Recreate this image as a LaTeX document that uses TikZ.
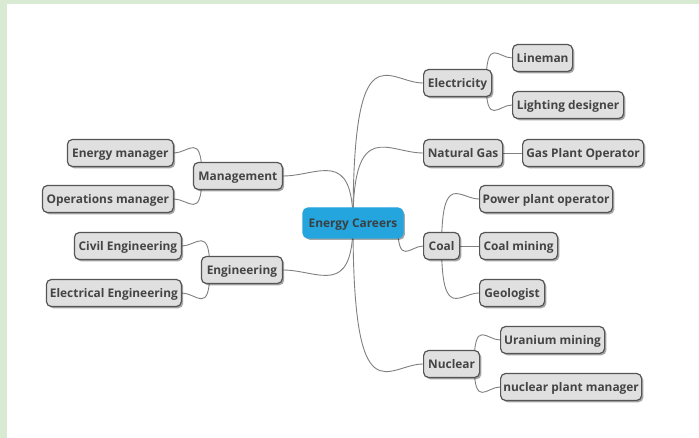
\documentclass[tikz,border=0pt]{standalone}
\usepackage{fontspec}
\setmainfont{Open Sans}
\usetikzlibrary{shadows,calc}
\definecolor{bggreen}{HTML}{D9EAD3}
\definecolor{boxfill}{HTML}{E0E0E0}
\definecolor{boxline}{HTML}{555555}
\definecolor{txt}{HTML}{444444}
\definecolor{rootfill}{HTML}{25A5DD}
\definecolor{roottxt}{HTML}{3A3F44}
\definecolor{edgecol}{HTML}{808080}
\pgfdeclarelayer{bg}
\pgfsetlayers{bg,main}
\begin{document}
\begin{tikzpicture}[x=1pt,y=-1pt,
  box/.style={draw=boxline, fill=boxfill, rounded corners=5pt, line width=1.2pt,
    minimum height=27pt, inner sep=0pt, text=txt, text height=8.5pt, text depth=0pt,
    font=\bfseries\fontsize{11.9}{13}\selectfont,
    drop shadow={shadow xshift=1.8pt, shadow yshift=-1.8pt, opacity=0.35, fill=black}},
  rootbox/.style={box, fill=rootfill, draw=rootfill, text=roottxt, minimum height=30pt},
  edge/.style={draw=edgecol, line width=0.9pt}]
\begin{pgfonlayer}{bg}
  \fill[white] (0,0) rectangle (699,438);
  \fill[bggreen] (0,0) rectangle (699,4);
  \fill[bggreen] (0,0) rectangle (7,438);
\end{pgfonlayer}
\useasboundingbox (0,0) rectangle (699,438);

% root
\node[rootbox, minimum width=100pt] (root) at (353,223) {Energy Careers};

% right side
\node[box, anchor=west, minimum width=68pt] (elec) at (423,83) {Electricity};
\node[box, anchor=west, minimum width=60pt] (lineman) at (512,58) {Lineman};
\node[box, anchor=west, minimum width=111pt] (lighting) at (512,105) {Lighting designer};
\node[box, anchor=west, minimum width=79pt] (natgas) at (423,153) {Natural Gas};
\node[box, anchor=west, minimum width=121pt] (gpo) at (522,153) {Gas Plant Operator};
\node[box, anchor=west, minimum width=36pt] (coal) at (423,246) {Coal};
\node[box, anchor=west, minimum width=133pt] (ppo) at (479,199) {Power plant operator};
\node[box, anchor=west, minimum width=78pt] (coalmining) at (479,246) {Coal mining};
\node[box, anchor=west, minimum width=65pt] (geologist) at (479,293) {Geologist};
\node[box, anchor=west, minimum width=56pt] (nuclear) at (423,364) {Nuclear};
\node[box, anchor=west, minimum width=104pt] (uranium) at (500,340) {Uranium mining};
\node[box, anchor=west, minimum width=141pt] (npm) at (500,387) {nuclear plant manager};

% left side
\node[box, anchor=east, minimum width=89pt] (mgmt) at (283,176) {Management};
\node[box, anchor=east, minimum width=106pt] (energymgr) at (174,153) {Energy manager};
\node[box, anchor=east, minimum width=131pt] (opsmgr) at (174,199) {Operations manager};
\node[box, anchor=east, minimum width=81pt] (eng) at (283,270) {Engineering};
\node[box, anchor=east, minimum width=107pt] (civil) at (182,246) {Civil Engineering};
\node[box, anchor=east, minimum width=135pt] (electrical) at (182,293) {Electrical Engineering};

\begin{pgfonlayer}{bg}
  % root branches
  \draw[edge] (root.center) .. controls +(0,-197) and +(-35,0) .. (elec.west);
  \draw[edge] (root.center) .. controls +(0,-106) and +(-35,0) .. (natgas.west);
  \draw[edge] ([xshift=-6pt]root.east) .. controls +(0,45) and +(-13,0) .. (coal.west);
  \draw[edge] (root.center) .. controls +(0,198) and +(-35,0) .. (nuclear.west);
  \draw[edge] (root.center) .. controls +(0,-76) and +(35,0) .. (mgmt.east);
  \draw[edge] (root.center) .. controls +(0,76) and +(35,0) .. (eng.east);
  % electricity
  \draw[edge] ([xshift=-6pt]elec.east) .. controls +(0,-47) and +(-13.5,0) .. (lineman.west);
  \draw[edge] ([xshift=-6pt]elec.east) .. controls +(0,44) and +(-13.5,0) .. (lighting.west);
  % natural gas
  \draw[edge] (natgas.east) -- (gpo.west);
  % coal
  \draw[edge] (coal.center) .. controls +(0,-76) and +(-19,0) .. (ppo.west);
  \draw[edge] (coal.east) -- (coalmining.west);
  \draw[edge] (coal.center) .. controls +(0,76) and +(-19,0) .. (geologist.west);
  % nuclear
  \draw[edge] ([xshift=-6pt]nuclear.east) .. controls +(0,-46) and +(-13.5,0) .. (uranium.west);
  \draw[edge] ([xshift=-6pt]nuclear.east) .. controls +(0,45) and +(-13.5,0) .. (npm.west);
  % management
  \draw[edge] ([xshift=9pt]mgmt.west) .. controls +(0,-45) and +(14.5,0) .. (energymgr.east);
  \draw[edge] ([xshift=9pt]mgmt.west) .. controls +(0,45) and +(14.5,0) .. (opsmgr.east);
  % engineering
  \draw[edge] ([xshift=9pt]eng.west) .. controls +(0,-46) and +(14.5,0) .. (civil.east);
  \draw[edge] ([xshift=9pt]eng.west) .. controls +(0,46) and +(14.5,0) .. (electrical.east);
\end{pgfonlayer}
\end{tikzpicture}
\end{document}
